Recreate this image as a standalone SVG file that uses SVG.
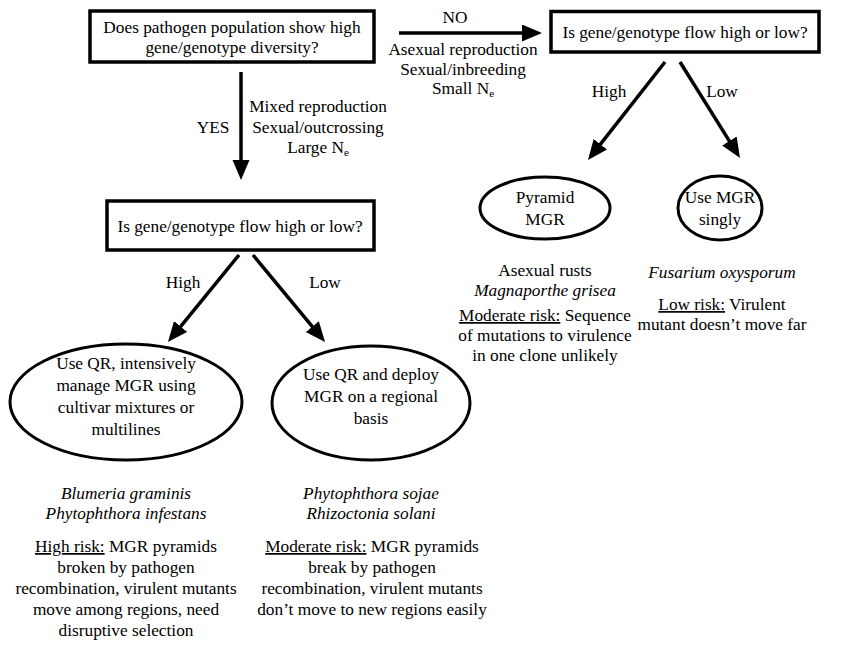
<svg xmlns="http://www.w3.org/2000/svg" width="844" height="653" viewBox="0 0 844 653">
<defs>
<marker id="ah" markerUnits="userSpaceOnUse" markerWidth="22" markerHeight="19" refX="3" refY="8.5" orient="auto">
<path d="M0,0 L20,8.5 L0,17 z" fill="#000"/>
</marker>
<style>
text{font-size:17.3px;fill:#000;text-anchor:middle}
.box{fill:#fff;stroke:#000;stroke-width:3.5}
.ell{fill:#fff;stroke:#000;stroke-width:3}
.conn line{stroke:#000;stroke-width:3.5;marker-end:url(#ah)}
.it{font-style:italic}
.u{text-decoration:underline}
.sub{font-size:11px}
</style>
</defs>
<rect width="844" height="653" fill="#fff"/>
<g font-family="Liberation Serif, Times New Roman, Times, Tinos, Nimbus Roman, Noto Serif, DejaVu Serif, FreeSerif, serif">
<g class="conn" id="connectors">
<line x1="399" y1="33" x2="525" y2="33"/>
<line x1="241" y1="72" x2="241" y2="163"/>
<line x1="665" y1="62" x2="598.5" y2="146.6"/>
<line x1="680" y1="62" x2="731" y2="143.6"/>
<line x1="239" y1="255" x2="178.7" y2="328.8"/>
<line x1="253" y1="255" x2="314.2" y2="328.9"/>
</g>
<g id="edge-labels">
<text x="455" y="23">NO</text>
<text x="463" y="55">Asexual reproduction</text>
<text x="463" y="75">Sexual/inbreeding</text>
<text x="463" y="94">Small N<tspan class="sub" dy="3">e</tspan></text>
<text x="213" y="133">YES</text>
<text x="318" y="112">Mixed reproduction</text>
<text x="318" y="133">Sexual/outcrossing</text>
<text x="318" y="153">Large N<tspan class="sub" dy="3">e</tspan></text>
<text x="609" y="97">High</text>
<text x="722" y="97">Low</text>
<text x="183" y="288">High</text>
<text x="325" y="288">Low</text>
</g>
<g id="q-diversity">
<rect class="box" x="90" y="11" width="284" height="51"/>
<text x="232" y="33">Does pathogen population show high</text>
<text x="232" y="53">gene/genotype diversity?</text>
</g>
<g id="q-flow-right">
<rect class="box" x="551" y="11.5" width="268" height="40.5"/>
<text x="685" y="38">Is gene/genotype flow high or low?</text>
</g>
<g id="q-flow-left">
<rect class="box" x="107" y="201" width="267" height="49"/>
<text x="240" y="232">Is gene/genotype flow high or low?</text>
</g>
<g id="pyramid-mgr">
<ellipse class="ell" cx="545" cy="208" rx="65" ry="31"/>
<text x="545" y="203">Pyramid</text>
<text x="545" y="225">MGR</text>
</g>
<g id="use-mgr-singly">
<ellipse class="ell" cx="720" cy="208" rx="42" ry="32"/>
<text x="720" y="203">Use MGR</text>
<text x="720" y="225">singly</text>
</g>
<g id="use-qr-intensive">
<ellipse class="ell" cx="126" cy="402" rx="116" ry="58"/>
<text x="126" y="369">Use QR, intensively</text>
<text x="126" y="391">manage MGR using</text>
<text x="126" y="413">cultivar mixtures or</text>
<text x="126" y="435">multilines</text>
</g>
<g id="use-qr-regional">
<ellipse class="ell" cx="371" cy="403" rx="99" ry="57"/>
<text x="371" y="380">Use QR and deploy</text>
<text x="371" y="402">MGR on a regional</text>
<text x="371" y="424">basis</text>
</g>
<g id="notes-pyramid">
<text x="545" y="276">Asexual rusts</text>
<text x="545" y="296" class="it">Magnaporthe grisea</text>
<text x="545" y="321"><tspan class="u">Moderate risk:</tspan> Sequence</text>
<text x="545" y="341">of mutations to virulence</text>
<text x="545" y="361">in one clone unlikely</text>
</g>
<g id="notes-singly">
<text x="722" y="278" class="it">Fusarium oxysporum</text>
<text x="722" y="310"><tspan class="u">Low risk:</tspan> Virulent</text>
<text x="722" y="330">mutant doesn’t move far</text>
</g>
<g id="notes-intensive">
<text x="126" y="499" class="it">Blumeria graminis</text>
<text x="126" y="519" class="it">Phytophthora infestans</text>
<text x="126" y="552"><tspan class="u">High risk:</tspan> MGR pyramids</text>
<text x="126" y="573">broken by pathogen</text>
<text x="126" y="594">recombination, virulent mutants</text>
<text x="126" y="615">move among regions, need</text>
<text x="126" y="636">disruptive selection</text>
</g>
<g id="notes-regional">
<text x="371" y="499" class="it">Phytophthora sojae</text>
<text x="371" y="519" class="it">Rhizoctonia solani</text>
<text x="372" y="552"><tspan class="u">Moderate risk:</tspan> MGR pyramids</text>
<text x="372" y="573">break by pathogen</text>
<text x="372" y="594">recombination, virulent mutants</text>
<text x="372" y="615">don’t move to new regions easily</text>
</g>
</g>
</svg>
